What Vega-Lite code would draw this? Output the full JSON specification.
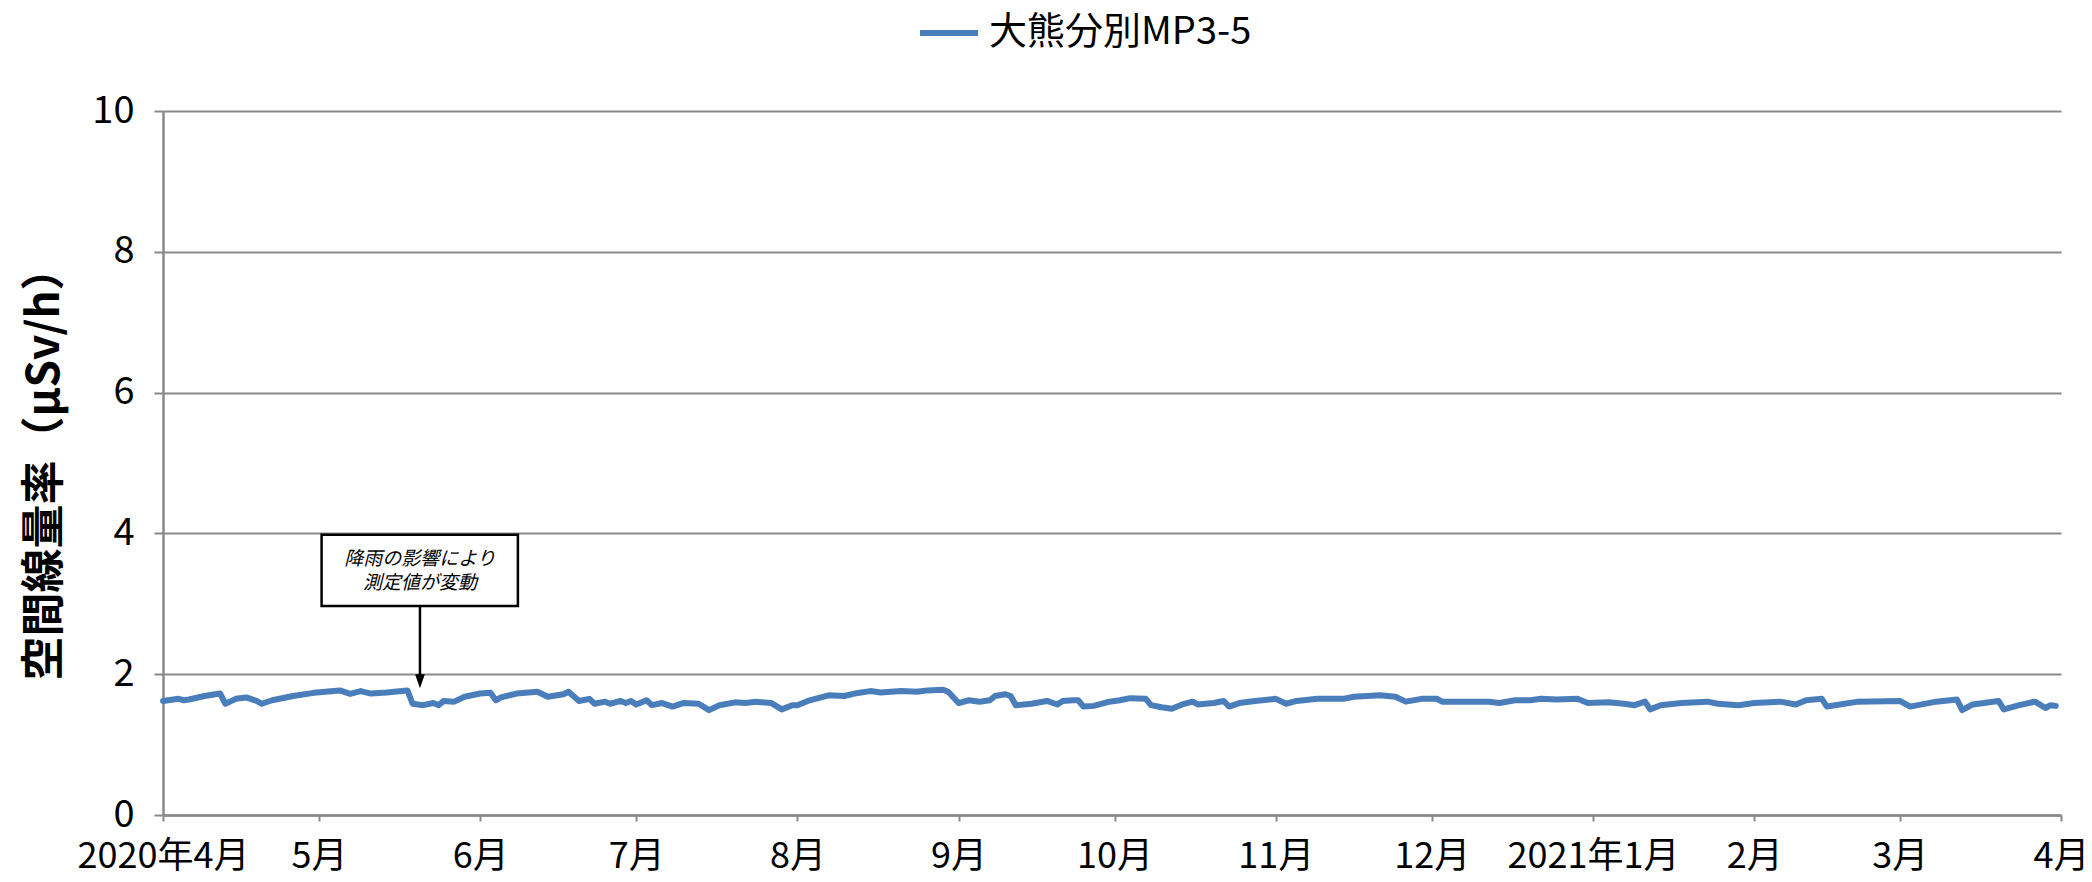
{
  "$schema": "https://vega.github.io/schema/vega-lite/v6.json",
  "autosize": "none",
  "width": 1898,
  "height": 704,
  "padding": {"left": 163, "top": 111, "right": 31, "bottom": 67},
  "background": "white",
  "config": {
    "view": {"stroke": null},
    "font": "Noto Sans CJK JP"
  },
  "layer": [
    {
      "data": {"values": [
        {"date":"2020-04-01","value":1.62},{"date":"2020-04-04","value":1.65},{"date":"2020-04-05","value":1.63},{"date":"2020-04-06","value":1.64},
        {"date":"2020-04-09","value":1.69},{"date":"2020-04-12","value":1.725},{"date":"2020-04-13","value":1.58},{"date":"2020-04-15","value":1.65},
        {"date":"2020-04-17","value":1.67},{"date":"2020-04-19","value":1.62},{"date":"2020-04-20","value":1.58},{"date":"2020-04-22","value":1.63},
        {"date":"2020-04-26","value":1.69},{"date":"2020-04-30","value":1.735},{"date":"2020-05-05","value":1.77},{"date":"2020-05-07","value":1.72},
        {"date":"2020-05-09","value":1.76},{"date":"2020-05-11","value":1.725},{"date":"2020-05-14","value":1.74},{"date":"2020-05-18","value":1.77},
        {"date":"2020-05-19","value":1.58},{"date":"2020-05-21","value":1.56},{"date":"2020-05-23","value":1.59},{"date":"2020-05-24","value":1.56},
        {"date":"2020-05-25","value":1.62},{"date":"2020-05-27","value":1.61},{"date":"2020-05-29","value":1.68},{"date":"2020-06-01","value":1.725},
        {"date":"2020-06-03","value":1.735},{"date":"2020-06-04","value":1.63},{"date":"2020-06-05","value":1.67},{"date":"2020-06-08","value":1.725},
        {"date":"2020-06-12","value":1.75},{"date":"2020-06-14","value":1.68},{"date":"2020-06-17","value":1.715},{"date":"2020-06-18","value":1.75},
        {"date":"2020-06-20","value":1.62},{"date":"2020-06-22","value":1.65},{"date":"2020-06-23","value":1.58},{"date":"2020-06-25","value":1.61},
        {"date":"2020-06-26","value":1.58},{"date":"2020-06-28","value":1.62},{"date":"2020-06-29","value":1.59},{"date":"2020-06-30","value":1.62},
        {"date":"2020-07-01","value":1.57},{"date":"2020-07-03","value":1.63},{"date":"2020-07-04","value":1.56},{"date":"2020-07-06","value":1.59},
        {"date":"2020-07-08","value":1.54},{"date":"2020-07-10","value":1.59},{"date":"2020-07-13","value":1.58},{"date":"2020-07-15","value":1.49},
        {"date":"2020-07-17","value":1.56},{"date":"2020-07-20","value":1.60},{"date":"2020-07-22","value":1.59},{"date":"2020-07-24","value":1.61},
        {"date":"2020-07-27","value":1.59},{"date":"2020-07-29","value":1.50},{"date":"2020-07-31","value":1.56},{"date":"2020-08-01","value":1.56},
        {"date":"2020-08-03","value":1.62},{"date":"2020-08-07","value":1.70},{"date":"2020-08-10","value":1.69},{"date":"2020-08-12","value":1.725},
        {"date":"2020-08-15","value":1.76},{"date":"2020-08-17","value":1.74},{"date":"2020-08-21","value":1.76},{"date":"2020-08-24","value":1.75},
        {"date":"2020-08-26","value":1.77},{"date":"2020-08-29","value":1.78},{"date":"2020-08-30","value":1.75},{"date":"2020-09-01","value":1.59},
        {"date":"2020-09-03","value":1.63},{"date":"2020-09-05","value":1.61},{"date":"2020-09-07","value":1.63},{"date":"2020-09-08","value":1.69},
        {"date":"2020-09-10","value":1.715},{"date":"2020-09-11","value":1.69},{"date":"2020-09-12","value":1.56},{"date":"2020-09-15","value":1.58},
        {"date":"2020-09-18","value":1.62},{"date":"2020-09-20","value":1.57},{"date":"2020-09-21","value":1.62},{"date":"2020-09-23","value":1.63},
        {"date":"2020-09-24","value":1.63},{"date":"2020-09-25","value":1.54},{"date":"2020-09-27","value":1.55},{"date":"2020-09-30","value":1.61},
        {"date":"2020-10-02","value":1.63},{"date":"2020-10-04","value":1.66},{"date":"2020-10-07","value":1.65},{"date":"2020-10-08","value":1.56},
        {"date":"2020-10-10","value":1.53},{"date":"2020-10-12","value":1.51},{"date":"2020-10-14","value":1.57},{"date":"2020-10-16","value":1.61},
        {"date":"2020-10-17","value":1.57},{"date":"2020-10-20","value":1.59},{"date":"2020-10-22","value":1.62},{"date":"2020-10-23","value":1.54},
        {"date":"2020-10-25","value":1.59},{"date":"2020-10-28","value":1.62},{"date":"2020-11-01","value":1.65},{"date":"2020-11-03","value":1.58},
        {"date":"2020-11-05","value":1.62},{"date":"2020-11-09","value":1.65},{"date":"2020-11-14","value":1.65},{"date":"2020-11-16","value":1.68},
        {"date":"2020-11-21","value":1.70},{"date":"2020-11-24","value":1.68},{"date":"2020-11-26","value":1.61},{"date":"2020-11-29","value":1.65},
        {"date":"2020-12-02","value":1.65},{"date":"2020-12-03","value":1.61},{"date":"2020-12-07","value":1.61},{"date":"2020-12-12","value":1.61},
        {"date":"2020-12-14","value":1.59},{"date":"2020-12-17","value":1.63},{"date":"2020-12-20","value":1.63},{"date":"2020-12-22","value":1.65},
        {"date":"2020-12-25","value":1.64},{"date":"2020-12-29","value":1.65},{"date":"2020-12-31","value":1.59},{"date":"2021-01-04","value":1.60},
        {"date":"2021-01-07","value":1.58},{"date":"2021-01-09","value":1.56},{"date":"2021-01-11","value":1.61},{"date":"2021-01-12","value":1.50},
        {"date":"2021-01-14","value":1.56},{"date":"2021-01-18","value":1.59},{"date":"2021-01-23","value":1.61},{"date":"2021-01-25","value":1.58},
        {"date":"2021-01-29","value":1.56},{"date":"2021-02-01","value":1.59},{"date":"2021-02-06","value":1.61},{"date":"2021-02-09","value":1.57},
        {"date":"2021-02-11","value":1.63},{"date":"2021-02-14","value":1.65},{"date":"2021-02-15","value":1.54},{"date":"2021-02-21","value":1.61},
        {"date":"2021-03-01","value":1.62},{"date":"2021-03-03","value":1.54},{"date":"2021-03-08","value":1.61},{"date":"2021-03-12","value":1.64},
        {"date":"2021-03-13","value":1.49},{"date":"2021-03-15","value":1.57},{"date":"2021-03-20","value":1.62},{"date":"2021-03-21","value":1.50},
        {"date":"2021-03-24","value":1.56},{"date":"2021-03-27","value":1.61},{"date":"2021-03-29","value":1.52},{"date":"2021-03-30","value":1.56},
        {"date":"2021-03-31","value":1.55}
      ]},
      "mark": {"type": "line", "strokeWidth": 6, "strokeJoin": "round", "strokeCap": "round"},
      "encoding": {
        "x": {
          "field": "date", "type": "temporal",
          "scale": {"type": "utc", "domain": [{"year": 2020, "month": 4, "date": 1, "utc": true}, {"year": 2021, "month": 4, "date": 1, "utc": true}], "nice": false},
          "axis": {
            "title": null,
            "grid": false,
            "values": [
              {"year": 2020, "month": 4, "date": 1, "utc": true},
              {"year": 2020, "month": 5, "date": 1, "utc": true},
              {"year": 2020, "month": 6, "date": 1, "utc": true},
              {"year": 2020, "month": 7, "date": 1, "utc": true},
              {"year": 2020, "month": 8, "date": 1, "utc": true},
              {"year": 2020, "month": 9, "date": 1, "utc": true},
              {"year": 2020, "month": 10, "date": 1, "utc": true},
              {"year": 2020, "month": 11, "date": 1, "utc": true},
              {"year": 2020, "month": 12, "date": 1, "utc": true},
              {"year": 2021, "month": 1, "date": 1, "utc": true},
              {"year": 2021, "month": 2, "date": 1, "utc": true},
              {"year": 2021, "month": 3, "date": 1, "utc": true},
              {"year": 2021, "month": 4, "date": 1, "utc": true}
            ],
            "labelExpr": "(utcmonth(datum.value) == 3 && utcyear(datum.value) == 2020) ? '2020年4月' : (utcmonth(datum.value) == 0 ? (utcyear(datum.value) + '年1月') : ((utcmonth(datum.value) + 1) + '月'))",
            "labelFontSize": 36,
            "labelColor": "black",
            "labelFlush": false,
            "labelOverlap": false,
            "labelBound": false,
            "labelLimit": 0,
            "labelPadding": 18,
            "domainColor": "#898989",
            "domainWidth": 2.5,
            "tickColor": "#898989",
            "tickWidth": 2,
            "tickSize": 6
          }
        },
        "y": {
          "field": "value", "type": "quantitative",
          "scale": {"domain": [0, 10], "nice": false, "zero": true},
          "axis": {
            "title": "空間線量率（μSv/h）",
            "titleFontSize": 44,
            "titleFontWeight": "bold",
            "titleColor": "black",
            "titlePadding": 24,
            "values": [0, 2, 4, 6, 8, 10],
            "format": "d",
            "labelFontSize": 38,
            "labelColor": "black",
            "labelPadding": 20,
            "labelFlush": false,
            "grid": true,
            "gridColor": "#898989",
            "gridWidth": 2,
            "domainColor": "#898989",
            "domainWidth": 2.5,
            "tickColor": "#898989",
            "tickWidth": 2,
            "tickSize": 9
          }
        },
        "color": {
          "datum": "大熊分別MP3-5",
          "type": "nominal",
          "scale": {"domain": ["大熊分別MP3-5"], "range": ["#4a7ebb"]},
          "legend": {
            "title": null,
            "orient": "none",
            "legendX": 754,
            "legendY": -110,
            "direction": "horizontal",
            "padding": 0,
            "symbolType": "stroke",
            "symbolSize": 3364,
            "symbolStrokeWidth": 6,
            "labelFontSize": 38,
            "labelColor": "black",
            "labelOffset": 8,
            "labelLimit": 0
          }
        }
      }
    },
    {
      "data": {"values": [
        {"start": "2020-05-01T12:00:00Z", "end": "2020-06-08T06:00:00Z", "top": 3.98, "bottom": 2.97}
      ]},
      "mark": {"type": "rect", "fill": "white", "stroke": "black", "strokeWidth": 2.5},
      "encoding": {
        "x": {"field": "start", "type": "temporal"},
        "x2": {"field": "end"},
        "y": {"field": "top", "type": "quantitative"},
        "y2": {"field": "bottom"}
      }
    },
    {
      "data": {"values": [
        {"date": "2020-05-20T10:00:00Z", "value": 3.64, "label": "降雨の影響により"},
        {"date": "2020-05-20T10:00:00Z", "value": 3.29, "label": "測定値が変動"}
      ]},
      "mark": {"type": "text", "fontSize": 19, "fontStyle": "italic", "color": "black", "align": "center", "baseline": "middle"},
      "encoding": {
        "x": {"field": "date", "type": "temporal"},
        "y": {"field": "value", "type": "quantitative"},
        "text": {"field": "label"}
      }
    },
    {
      "data": {"values": [
        {"date": "2020-05-20T10:00:00Z", "from": 2.97, "to": 1.9}
      ]},
      "mark": {"type": "rule", "color": "black", "strokeWidth": 2.5},
      "encoding": {
        "x": {"field": "date", "type": "temporal"},
        "y": {"field": "from", "type": "quantitative"},
        "y2": {"field": "to"}
      }
    },
    {
      "data": {"values": [
        {"date": "2020-05-20T10:00:00Z", "value": 1.80}
      ]},
      "mark": {"type": "point", "shape": "M-0.7,-2L0.7,-2L0,0Z", "filled": true, "color": "black", "opacity": 1, "size": 196},
      "encoding": {
        "x": {"field": "date", "type": "temporal"},
        "y": {"field": "value", "type": "quantitative"}
      }
    }
  ]
}
